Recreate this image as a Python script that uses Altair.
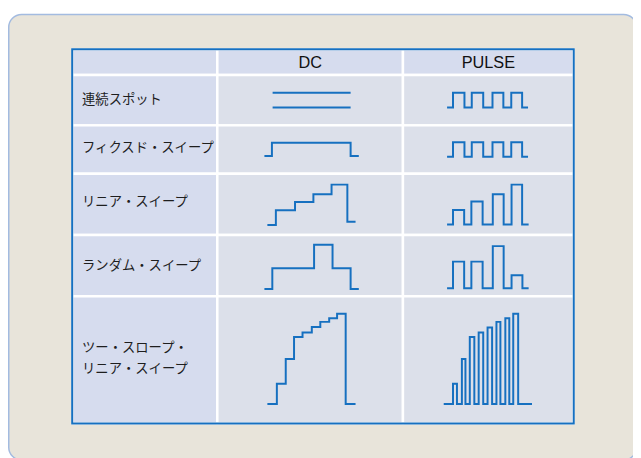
import altair as alt
import pandas as pd

# ---- text content ----
col_headers = ["DC", "PULSE"]
row_labels = ["連続スポット", "フィクスド・スイープ", "リニア・スイープ",
              "ランダム・スイープ", "ツー・スロープ・\nリニア・スイープ"]

# ---- waveforms: transition times and levels (step-after) ----
dc1a_t = [276, 355]
dc1a_v = [91, 91]
dc1b_t = [276, 355]
dc1b_v = [106, 106]
pl1_t = [452.7, 458.7, 470.3, 477.7, 489.3, 498.7, 509.7, 517.7, 528.7, 534.7]
pl1_v = [106, 91, 106, 91, 106, 91, 106, 91, 106, 106]

dc2_t = [267.7, 275.3, 355, 363.3]
dc2_v = [155, 141.7, 155, 155]
pl2_t = [452.7, 458.7, 470.3, 477.7, 489.3, 498.7, 509.7, 517.7, 528.7, 534.7]
pl2_v = [155.7, 141, 155.7, 141, 155.7, 141, 155.7, 141, 155.7, 155.7]

dc3_t = [270.7, 279.3, 298.7, 317.3, 335.7, 351.7, 360]
dc3_v = [225, 210, 201.7, 193.7, 184, 221.7, 221.7]
pl3_t = [452.7, 458.7, 470, 477.3, 488.7, 499, 510, 518, 528.7, 535.3]
pl3_v = [224.3, 209.7, 224.3, 201, 224.3, 193.7, 224.3, 184, 224.3, 224.3]

dc4_t = [267.7, 275.7, 318, 336.7, 355, 363.3]
dc4_v = [289.7, 268.7, 245, 268.7, 289.7, 289.7]
pl4_t = [452.7, 458.7, 470, 477.3, 488.7, 499, 510, 518, 529, 535.3]
pl4_v = [289, 262, 289, 262, 289, 246.3, 289, 275.7, 289, 289]

dc5_t = [270.7, 280.3, 289.3, 297.7, 306.3, 315.7, 324.3, 333.3, 341.3, 350, 360]
dc5_v = [406.3, 385.7, 360.7, 338.3, 333.7, 328.3, 323, 319.3, 314.7, 406.3, 406.3]
pl5_t = [449.3, 458.7, 462.7, 467.7, 471.3, 475.7, 480.3, 484.7, 489.3, 493.7,
         498.3, 502.7, 506.7, 511.7, 515.7, 519.7, 524.7, 538.7]
pl5_v = [406.3, 385.7, 406.3, 360.7, 406.3, 338.3, 406.3, 333.7, 406.3, 328.7,
         406.3, 323, 406.3, 319.3, 406.3, 314.7, 406.3, 406.3]

# ---- layout ----
col_edges = [73, 220, 408, 581]
row_edges = [47, 73, 124, 173, 235, 297, 426]

LAV = "#d6dcee"
GRY = "#dce0ea"
BLUE = "#1670c0"

waves = {
    "dc1a": (dc1a_t, dc1a_v), "dc1b": (dc1b_t, dc1b_v), "pl1": (pl1_t, pl1_v),
    "dc2": (dc2_t, dc2_v), "pl2": (pl2_t, pl2_v),
    "dc3": (dc3_t, dc3_v), "pl3": (pl3_t, pl3_v),
    "dc4": (dc4_t, dc4_v), "pl4": (pl4_t, pl4_v),
    "dc5": (dc5_t, dc5_v), "pl5": (pl5_t, pl5_v),
}
wrows = []
for name, (ts, vs) in waves.items():
    for i, (t, v) in enumerate(zip(ts, vs)):
        wrows.append({"wave": name, "i": i, "t": t, "v": v})
wave_df = pd.DataFrame(wrows)

cells = []
for r in range(len(row_edges) - 1):
    for c in range(len(col_edges) - 1):
        fill = LAV if (r == 0 or c == 0) else GRY
        cells.append({"x": col_edges[c], "x2": col_edges[c + 1],
                      "y": row_edges[r], "y2": row_edges[r + 1], "fill": fill})
cell_df = pd.DataFrame(cells)

hdr_df = pd.DataFrame({
    "label": col_headers,
    "x": [(col_edges[1] + col_edges[2]) / 2, (col_edges[2] + col_edges[3]) / 2],
    "y": [60.5, 60.5],
})
lab_df = pd.DataFrame({
    "label": row_labels,
    "x": [83] * 5,
    "y": [98, 147, 202, 266, 350],
})

X = alt.Scale(domain=[8, 641], nice=False, zero=False)
Y = alt.Scale(domain=[8, 458], nice=False, zero=False, reverse=True)

box = alt.Chart(pd.DataFrame({"x": [8.75], "x2": [644.5], "y": [11.75], "y2": [463]})).mark_rect(
    cornerRadius=13, fill="#e8e4da", stroke="#a3bbe0", strokeWidth=1.5
).encode(
    x=alt.X("x:Q", scale=X, axis=None), x2="x2:Q",
    y=alt.Y("y:Q", scale=Y, axis=None), y2="y2:Q",
)

cell_layer = alt.Chart(cell_df).mark_rect(stroke="white", strokeWidth=2.5).encode(
    x=alt.X("x:Q", scale=X, axis=None), x2="x2:Q",
    y=alt.Y("y:Q", scale=Y, axis=None), y2="y2:Q",
    fill=alt.Fill("fill:N", scale=None),
)

border = alt.Chart(pd.DataFrame({"x": [col_edges[0]], "x2": [col_edges[-1]],
                                 "y": [row_edges[0]], "y2": [row_edges[-1]]})).mark_rect(
    fill=None, stroke=BLUE, strokeWidth=2
).encode(
    x=alt.X("x:Q", scale=X, axis=None), x2="x2:Q",
    y=alt.Y("y:Q", scale=Y, axis=None), y2="y2:Q",
)

hdr = alt.Chart(hdr_df).mark_text(
    font="Liberation Sans", fontSize=16.5, color="#111111", align="center", baseline="middle"
).encode(
    x=alt.X("x:Q", scale=X, axis=None), y=alt.Y("y:Q", scale=Y, axis=None), text="label:N"
)

labs = alt.Chart(lab_df).mark_text(
    font="Noto Sans CJK JP", fontSize=13.5, color="#1e1e1e", align="left", baseline="middle",
    lineBreak="\n", lineHeight=20.5
).encode(
    x=alt.X("x:Q", scale=X, axis=None), y=alt.Y("y:Q", scale=Y, axis=None), text="label:N"
)

lines = alt.Chart(wave_df).mark_line(
    interpolate="step-after", strokeWidth=2, color=BLUE, strokeCap="butt"
).encode(
    x=alt.X("t:Q", scale=X, axis=None),
    y=alt.Y("v:Q", scale=Y, axis=None),
    detail="wave:N",
    order="i:Q",
)

chart = alt.layer(box, cell_layer, border, hdr, labs, lines).properties(
    width=633, height=450, autosize=alt.AutoSizeParams(type="none"), padding=0
).configure_view(stroke=None)

chart.save("out.html", embed_options={"renderer": "svg", "actions": False})
